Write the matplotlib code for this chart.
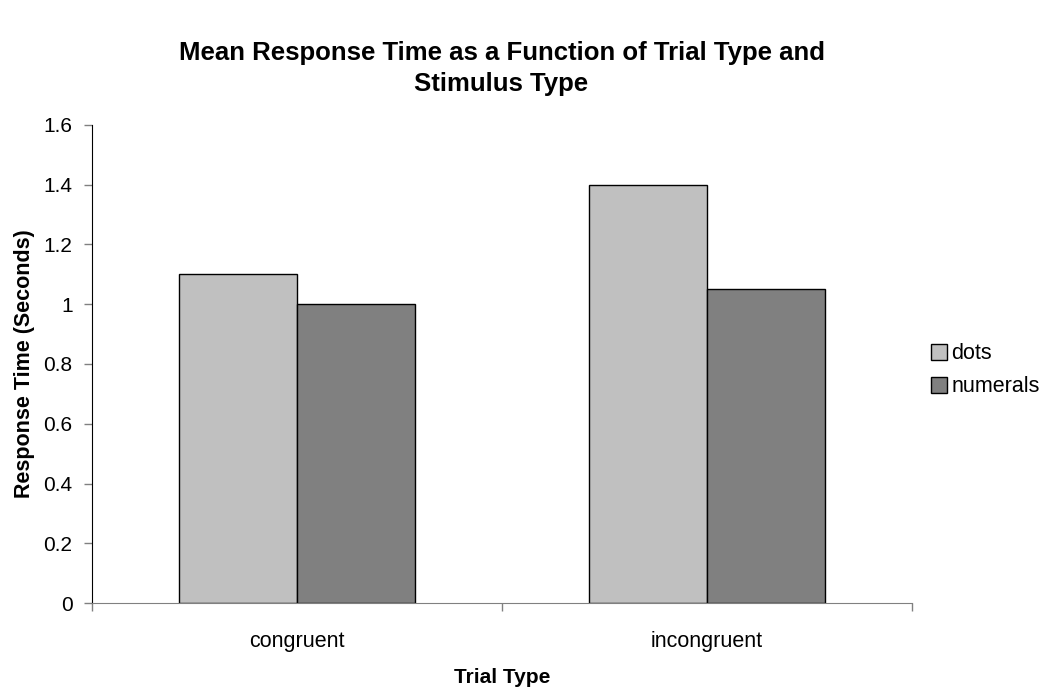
import matplotlib
matplotlib.use('Agg')
import matplotlib.pyplot as plt
import numpy as np

# ── Dados ──────────────────────────────────────────────────────────────
trial_types = ['congruent', 'incongruent']
dots = [1.1, 1.4]
numerals = [1.0, 1.05]
yticks = [0, 0.2, 0.4, 0.6, 0.8, 1, 1.2, 1.4, 1.6]
ytick_labels = ['0', '0.2', '0.4', '0.6', '0.8', '1', '1.2', '1.4', '1.6']

plt.rcParams['font.family'] = ['Liberation Sans', 'DejaVu Sans']

fig = plt.figure(figsize=(10.47, 6.89), dpi=100)
ax = fig.add_axes([0.0879, 0.1248, 0.871 - 0.0879, 0.8186 - 0.1248])

centers = np.arange(len(trial_types)) + 0.5
w = 0.288
ax.bar(centers - w / 2, dots, w, color='#C0C0C0', edgecolor='black',
       linewidth=1, label='dots')
ax.bar(centers + w / 2, numerals, w, color='#808080', edgecolor='black',
       linewidth=1, label='numerals')

ax.set_xlim(0, len(trial_types))
ax.set_ylim(0, 1.6)
ax.set_yticks(yticks)
ax.set_yticklabels(ytick_labels, fontsize=15)

# ticks nas fronteiras das categorias, rótulos no centro
ax.set_xticks(np.arange(len(trial_types) + 1))
ax.set_xticklabels([])
ax.set_xticks(centers, minor=True)
ax.set_xticklabels(trial_types, minor=True, fontsize=15.5)
ax.tick_params(axis='x', which='minor', length=0, pad=20)
ax.tick_params(axis='both', which='major', direction='out', length=6,
               width=1, color='#808080')
ax.tick_params(axis='y', pad=8)

for s in ['top', 'right']:
    ax.spines[s].set_visible(False)
ax.spines['left'].set_color('black')
ax.spines['bottom'].set_color('#808080')

ax.set_xlabel('Trial Type', fontsize=15, fontweight='bold', labelpad=12)
ax.set_ylabel('Response Time (Seconds)', fontsize=15.5, fontweight='bold',
              labelpad=6)
fig.suptitle('Mean Response Time as a Function of Trial Type and\nStimulus Type',
             x=0.479, y=0.94, fontsize=18.5, fontweight='bold', linespacing=1.35)

ax.legend(loc='center left', bbox_to_anchor=(1.01, 0.487), frameon=False,
          fontsize=15.5, handlelength=0.75, handleheight=0.75, handletextpad=0.2,
          labelspacing=0.55, borderpad=0)

plt.savefig('out.png', dpi=100)
